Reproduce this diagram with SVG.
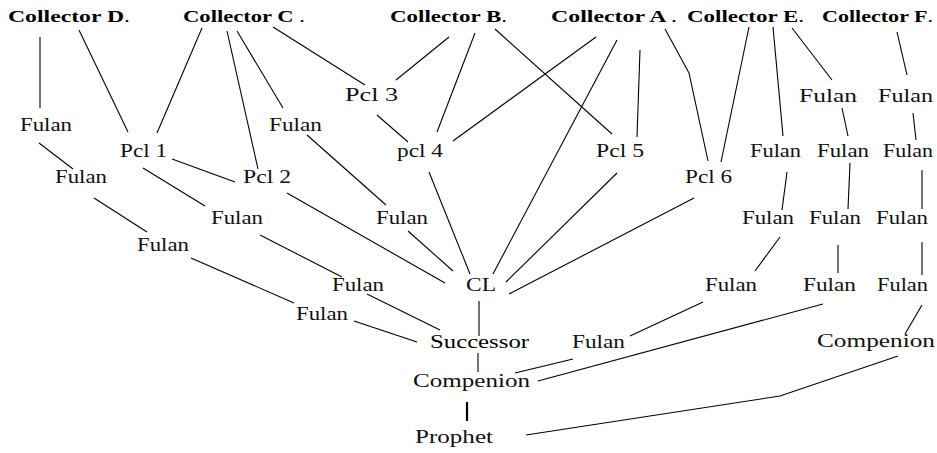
<svg xmlns="http://www.w3.org/2000/svg" width="937" height="453" viewBox="0 0 937 453">
<style>
.c{font-family:"Liberation Serif","Times New Roman",serif;font-size:16px;font-weight:bold;fill:#000}
.c tspan{font-weight:normal}
.n{font-family:"Liberation Serif","Times New Roman",serif;font-size:18px;fill:#111}
.e line,.e polyline{stroke:#000;stroke-width:1.1;fill:none}
</style>
<rect width="937" height="453" fill="#fff"/>
<g id="connectors" class="e">
<line x1="40" y1="37" x2="40" y2="108"/>
<line x1="79" y1="30" x2="128" y2="132"/>
<line x1="202" y1="28" x2="157" y2="133"/>
<line x1="227" y1="31" x2="258" y2="169"/>
<line x1="237" y1="31" x2="283" y2="108"/>
<line x1="273" y1="27" x2="365" y2="85"/>
<line x1="39" y1="143" x2="73" y2="169"/>
<line x1="172" y1="159" x2="235" y2="182"/>
<line x1="143" y1="168" x2="205" y2="206"/>
<line x1="94" y1="198" x2="147" y2="232"/>
<line x1="287" y1="193" x2="445" y2="283"/>
<line x1="260" y1="235" x2="342" y2="277"/>
<line x1="191" y1="258" x2="294" y2="303"/>
<line x1="367" y1="294" x2="440" y2="330"/>
<line x1="354" y1="321" x2="417" y2="342"/>
<line x1="479" y1="301" x2="479" y2="336"/>
<line x1="478" y1="353" x2="478" y2="372"/>
<line x1="467" y1="402" x2="467" y2="421" style="stroke-width:2.2"/>
<polyline points="526,435 780,396 898,356"/>
<line x1="515" y1="373" x2="573" y2="359"/>
<line x1="538" y1="381" x2="823" y2="304"/>
<line x1="630" y1="336" x2="703" y2="302"/>
<line x1="905" y1="334" x2="922" y2="305"/>
<line x1="449" y1="37" x2="396" y2="80"/>
<line x1="475" y1="33" x2="437" y2="132"/>
<line x1="495" y1="29" x2="612" y2="134"/>
<line x1="596" y1="37" x2="453" y2="141"/>
<line x1="617" y1="40" x2="493" y2="274"/>
<line x1="640" y1="50" x2="637" y2="137"/>
<polyline points="665,29 689,73 708,161"/>
<line x1="749" y1="27" x2="721" y2="162"/>
<line x1="773" y1="27" x2="783" y2="136"/>
<line x1="792" y1="28" x2="832" y2="80"/>
<line x1="897" y1="32" x2="907" y2="75"/>
<line x1="842" y1="108" x2="848" y2="136"/>
<line x1="913" y1="113" x2="916" y2="140"/>
<line x1="787" y1="172" x2="782" y2="210"/>
<line x1="850" y1="163" x2="848" y2="209"/>
<line x1="922" y1="170" x2="922" y2="209"/>
<line x1="780" y1="237" x2="755" y2="271"/>
<line x1="838" y1="245" x2="838" y2="273"/>
<line x1="922" y1="242" x2="922" y2="275"/>
<line x1="694" y1="198" x2="509" y2="294"/>
<line x1="617" y1="173" x2="506" y2="282"/>
<line x1="429" y1="172" x2="470" y2="274"/>
<line x1="377" y1="115" x2="408" y2="142"/>
<line x1="307" y1="135" x2="386" y2="205"/>
<line x1="408" y1="231" x2="453" y2="271"/>
</g>
<g id="collectorD"><text class="c" x="8" y="22" textLength="122" lengthAdjust="spacingAndGlyphs">Collector D<tspan>.</tspan></text></g>
<g id="collectorC"><text class="c" x="183" y="22" textLength="122" lengthAdjust="spacingAndGlyphs">Collector C <tspan>.</tspan></text></g>
<g id="collectorB"><text class="c" x="390" y="22" textLength="117" lengthAdjust="spacingAndGlyphs">Collector B<tspan>.</tspan></text></g>
<g id="collectorA"><text class="c" x="551" y="22" textLength="126" lengthAdjust="spacingAndGlyphs">Collector A <tspan>.</tspan></text></g>
<g id="collectorE"><text class="c" x="687" y="22" textLength="117" lengthAdjust="spacingAndGlyphs">Collector E<tspan>.</tspan></text></g>
<g id="collectorF"><text class="c" x="822" y="22" textLength="111" lengthAdjust="spacingAndGlyphs">Collector F<tspan>.</tspan></text></g>
<g id="fulanD1"><text class="n" x="20" y="131" textLength="52" lengthAdjust="spacingAndGlyphs">Fulan</text></g>
<g id="fulanC1"><text class="n" x="269" y="131" textLength="53" lengthAdjust="spacingAndGlyphs">Fulan</text></g>
<g id="pcl3"><text class="n" x="345" y="101" textLength="53" lengthAdjust="spacingAndGlyphs">Pcl 3</text></g>
<g id="fulanE1"><text class="n" x="799" y="102" textLength="58" lengthAdjust="spacingAndGlyphs">Fulan</text></g>
<g id="fulanF1"><text class="n" x="878" y="102" textLength="55" lengthAdjust="spacingAndGlyphs">Fulan</text></g>
<g id="pcl1"><text class="n" x="120" y="157" textLength="47" lengthAdjust="spacingAndGlyphs">Pcl 1</text></g>
<g id="pcl4"><text class="n" x="397" y="157" textLength="46" lengthAdjust="spacingAndGlyphs">pcl 4</text></g>
<g id="pcl5"><text class="n" x="596" y="157" textLength="48" lengthAdjust="spacingAndGlyphs">Pcl 5</text></g>
<g id="fulanE2"><text class="n" x="750" y="157" textLength="51" lengthAdjust="spacingAndGlyphs">Fulan</text></g>
<g id="fulanE3"><text class="n" x="817" y="157" textLength="52" lengthAdjust="spacingAndGlyphs">Fulan</text></g>
<g id="fulanF2"><text class="n" x="883" y="157" textLength="50" lengthAdjust="spacingAndGlyphs">Fulan</text></g>
<g id="fulanD2"><text class="n" x="55" y="183" textLength="52" lengthAdjust="spacingAndGlyphs">Fulan</text></g>
<g id="pcl2"><text class="n" x="243" y="183" textLength="48" lengthAdjust="spacingAndGlyphs">Pcl 2</text></g>
<g id="pcl6"><text class="n" x="685" y="183" textLength="47" lengthAdjust="spacingAndGlyphs">Pcl 6</text></g>
<g id="fulanP1"><text class="n" x="211" y="224" textLength="52" lengthAdjust="spacingAndGlyphs">Fulan</text></g>
<g id="fulanC2"><text class="n" x="376" y="224" textLength="52" lengthAdjust="spacingAndGlyphs">Fulan</text></g>
<g id="fulanE4"><text class="n" x="742" y="224" textLength="52" lengthAdjust="spacingAndGlyphs">Fulan</text></g>
<g id="fulanE5"><text class="n" x="809" y="224" textLength="52" lengthAdjust="spacingAndGlyphs">Fulan</text></g>
<g id="fulanF3"><text class="n" x="876" y="224" textLength="52" lengthAdjust="spacingAndGlyphs">Fulan</text></g>
<g id="fulanD3"><text class="n" x="137" y="251" textLength="52" lengthAdjust="spacingAndGlyphs">Fulan</text></g>
<g id="fulanP2"><text class="n" x="332" y="291" textLength="52" lengthAdjust="spacingAndGlyphs">Fulan</text></g>
<g id="cl"><text class="n" x="466" y="291" textLength="30" lengthAdjust="spacingAndGlyphs">CL</text></g>
<g id="fulanE6"><text class="n" x="705" y="291" textLength="52" lengthAdjust="spacingAndGlyphs">Fulan</text></g>
<g id="fulanE7"><text class="n" x="803" y="291" textLength="53" lengthAdjust="spacingAndGlyphs">Fulan</text></g>
<g id="fulanF4"><text class="n" x="877" y="291" textLength="51" lengthAdjust="spacingAndGlyphs">Fulan</text></g>
<g id="fulanD4"><text class="n" x="296" y="320" textLength="52" lengthAdjust="spacingAndGlyphs">Fulan</text></g>
<g id="successor"><text class="n" x="430" y="348" textLength="99" lengthAdjust="spacingAndGlyphs" style="fill:#000">Successor</text></g>
<g id="fulanE8"><text class="n" x="572" y="348" textLength="53" lengthAdjust="spacingAndGlyphs">Fulan</text></g>
<g id="compenionF"><text class="n" x="817" y="347" textLength="118" lengthAdjust="spacingAndGlyphs">Compenion</text></g>
<g id="compenion"><text class="n" x="413" y="387" textLength="117" lengthAdjust="spacingAndGlyphs">Compenion</text></g>
<g id="prophet"><text class="n" x="415" y="443" textLength="78" lengthAdjust="spacingAndGlyphs">Prophet</text></g>
</svg>
